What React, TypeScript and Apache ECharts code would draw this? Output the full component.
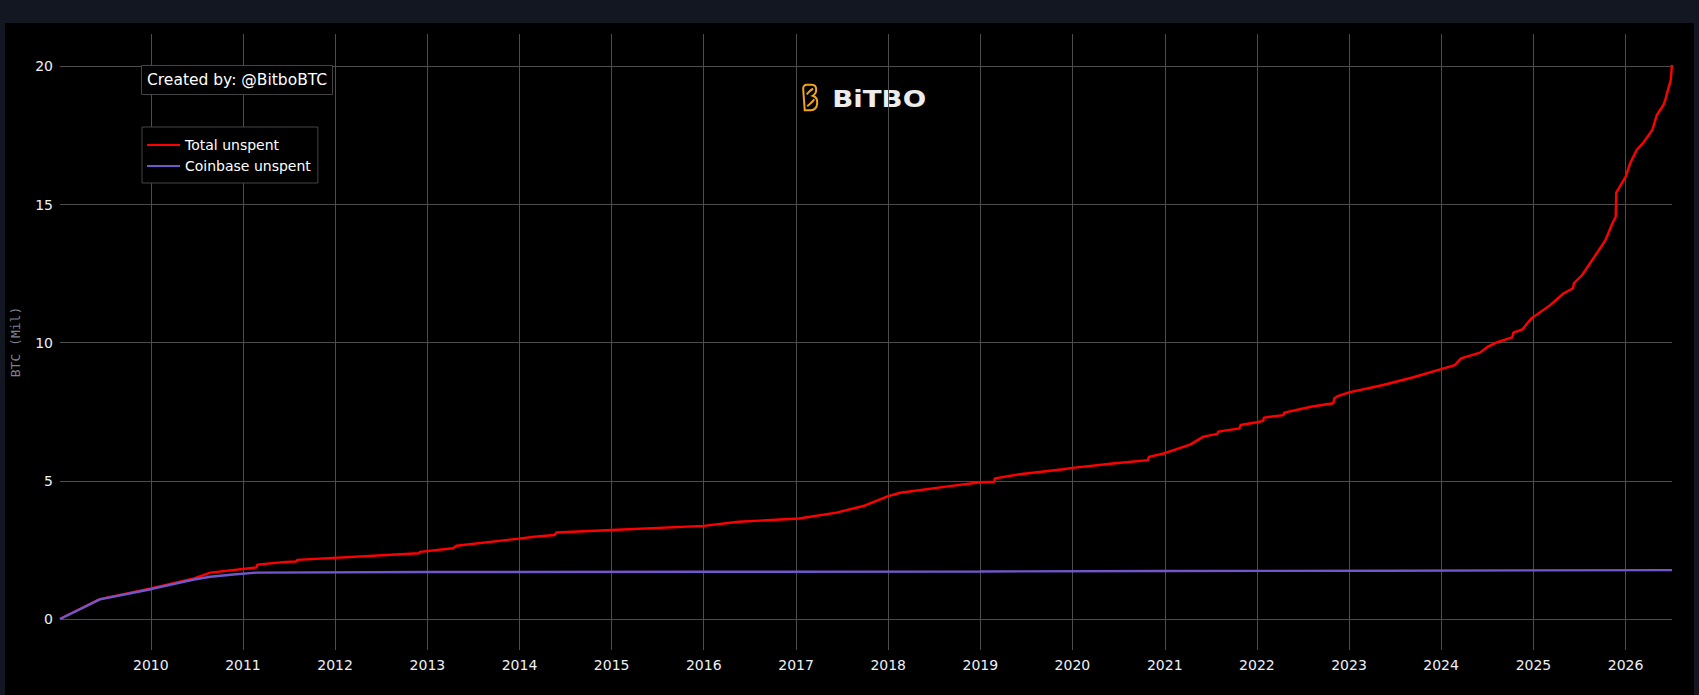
import React, { useEffect, useRef } from 'react';
import * as echarts from 'echarts';

const totalDates = [
  '2009-01-06', '2009-06-13', '2010-01-01', '2010-06-21', '2010-08-25', '2011-02-24', '2011-02-27',
  '2011-06-20', '2011-07-30', '2011-08-04', '2012-11-28', '2012-12-03', '2013-04-12', '2013-04-26',
  '2013-12-28', '2014-02-28', '2014-05-20', '2014-05-26', '2015-01-01', '2016-01-01', '2016-05-18',
  '2017-01-12', '2017-06-10', '2017-09-24', '2018-01-01', '2018-02-17', '2018-09-02', '2019-01-01',
  '2019-02-25', '2019-02-28', '2019-06-06', '2019-11-25', '2020-01-01', '2020-06-09', '2020-10-26',
  '2020-10-30', '2021-01-01', '2021-04-13', '2021-06-03', '2021-07-28', '2021-08-01', '2021-10-24',
  '2021-10-28', '2022-01-01', '2022-01-26', '2022-01-29', '2022-04-16', '2022-04-19', '2022-08-08',
  '2022-10-31', '2022-11-04', '2022-11-18', '2023-01-01', '2023-05-16', '2023-09-13', '2024-01-01',
  '2024-02-24', '2024-03-20', '2024-06-03', '2024-07-05', '2024-08-08', '2024-10-09', '2024-10-13',
  '2024-11-18', '2024-12-24', '2025-03-08', '2025-05-01', '2025-06-07', '2025-06-10', '2025-07-13',
  '2025-10-12', '2025-11-10', '2025-11-23', '2025-11-25', '2026-01-01', '2026-01-19', '2026-02-14',
  '2026-03-15', '2026-04-17', '2026-05-05', '2026-05-31', '2026-06-07', '2026-06-29', '2026-07-04',
];
const totalValues = [
  0, 0.72, 1.11, 1.47, 1.68, 1.87, 1.97,
  2.07, 2.08, 2.14, 2.38, 2.43, 2.56, 2.65,
  2.91, 2.98, 3.04, 3.13, 3.22, 3.37, 3.52,
  3.64, 3.85, 4.09, 4.45, 4.57, 4.81, 4.95,
  4.97, 5.09, 5.24, 5.42, 5.47, 5.63, 5.75,
  5.87, 6.0, 6.32, 6.6, 6.7, 6.78, 6.9,
  7.02, 7.12, 7.17, 7.29, 7.38, 7.47, 7.69,
  7.81, 7.99, 8.07, 8.2, 8.47, 8.75, 9.04,
  9.19, 9.43, 9.64, 9.86, 10.01, 10.19, 10.36,
  10.48, 10.88, 11.36, 11.79, 11.97, 12.15, 12.45,
  13.69, 14.32, 14.56, 15.43, 16.0, 16.49, 16.97,
  17.27, 17.7, 18.24, 18.6, 18.78, 19.5, 20.05,
];

const coinbaseDates = [
  '2009-01-06', '2009-06-13', '2010-01-01', '2010-06-21', '2010-08-25', '2010-11-24', '2011-02-24',
  '2013-01-01', '2016-01-01', '2019-01-01', '2021-01-01', '2023-06-01', '2026-07-04',
];
const coinbaseValues = [0, 0.71, 1.08, 1.43, 1.53, 1.61, 1.68, 1.7, 1.71, 1.72, 1.74, 1.75, 1.77];

const yearTicks = [
  '2010', '2011', '2012', '2013', '2014', '2015', '2016', '2017', '2018',
  '2019', '2020', '2021', '2022', '2023', '2024', '2025', '2026',
];
const yTicks = [0, 5, 10, 15, 20];
const xRange = ['2009-01-06', '2026-07-04'];
const yRange = [-1.12, 21.17];

const ICON_D =
  'M3,27 L1.5,6 Q1.2,1.5 5.5,1.5 L10,1.5 Q14.5,1.5 14.5,6.5 Q14.5,10.5 11,12.5 Q16,14 15.5,20 Q15,26.5 9,27 Z ' +
  'M5,11 Q9,6.5 11.5,5.5 M5.5,23 Q11,18.5 12.5,16';

function parseDay(s: string): number {
  const [y, m, d] = s.split('-').map(Number);
  return Date.UTC(y, (m || 1) - 1, d || 1);
}

const FONT = '"DejaVu Sans", Verdana, sans-serif';

export default function App() {
  const ref = useRef<HTMLDivElement>(null);

  useEffect(() => {
    document.body.style.margin = '0';
    try {
      echarts.graphic.registerShape('bitboIcon', echarts.graphic.extendPath(ICON_D, {}) as any);
    } catch (e) {
      // ignore
    }
    const chart = echarts.init(ref.current!, null, { renderer: 'svg' });
    const yearValues = yearTicks.map((y) => parseDay(y));
    const gridColor = '#4d4d4d';

    chart.setOption({
      animation: false,
      backgroundColor: '#000000',
      title: {
        text: 'Created by: @BitboBTC',
        left: 136,
        top: 42,
        padding: [7, 6],
        borderWidth: 1,
        borderColor: '#444444',
        backgroundColor: '#000000',
        textStyle: { color: '#ffffff', fontSize: 15.5, fontWeight: 'normal', fontFamily: FONT },
      },
      legend: {
        orient: 'vertical',
        left: 137,
        top: 104,
        padding: [11, 7, 10, 5],
        itemGap: 7,
        itemWidth: 33,
        itemHeight: 2,
        itemTextGap: 6,
        icon: 'rect',
        borderColor: '#444444',
        borderWidth: 1,
        backgroundColor: '#000000',
        textStyle: { color: '#ffffff', fontSize: 14, fontFamily: FONT },
        data: ['Total unspent', 'Coinbase unspent'],
      },
      grid: { left: 55, right: 22, top: 11, bottom: 45 },
      xAxis: {
        type: 'value',
        min: parseDay(xRange[0]),
        max: parseDay(xRange[1]),
        axisLine: { show: false },
        axisTick: { show: false, customValues: yearValues },
        axisLabel: {
          customValues: yearValues,
          formatter: (v: number) => String(new Date(v).getUTCFullYear()),
          color: '#eef0f5',
          fontSize: 14,
          fontFamily: FONT,
          margin: 8,
        },
        splitLine: { show: true, lineStyle: { color: gridColor, width: 1 } },
      },
      yAxis: {
        type: 'value',
        min: yRange[0],
        max: yRange[1],
        axisLine: { show: false },
        axisTick: { show: false, customValues: yTicks },
        axisLabel: {
          customValues: yTicks,
          color: '#eef0f5',
          fontSize: 14,
          fontFamily: FONT,
          margin: 7,
        },
        splitLine: { show: true, lineStyle: { color: gridColor, width: 1 } },
      },
      graphic: [
        {
          type: 'text',
          x: 10,
          y: 319,
          rotation: Math.PI / 2,
          style: {
            text: 'BTC (Mil)',
            fill: '#7d8591',
            font: '13px "DejaVu Sans Mono", monospace',
            align: 'center',
            verticalAlign: 'middle',
            textAlign: 'center',
            textVerticalAlign: 'middle',
          },
        },
        {
          type: 'bitboIcon',
          x: 796.7,
          y: 60.3,
          style: { stroke: '#f2a516', fill: 'none', lineWidth: 2 },
        },
        {
          type: 'text',
          x: 874.2,
          y: 75.5,
          scaleX: 1.2,
          style: {
            text: 'BiTBO',
            fill: '#ececec',
            font: 'bold 23px "DejaVu Sans", sans-serif',
            align: 'center',
            verticalAlign: 'middle',
            textAlign: 'center',
            textVerticalAlign: 'middle',
          },
        },
      ],
      series: [
        {
          name: 'Total unspent',
          type: 'line',
          showSymbol: false,
          symbol: 'none',
          color: '#ff0000',
          lineStyle: { color: '#ff0000', width: 2.4 },
          emphasis: { disabled: true },
          data: totalDates.map((d, i) => [parseDay(d), totalValues[i]]),
        },
        {
          name: 'Coinbase unspent',
          type: 'line',
          showSymbol: false,
          symbol: 'none',
          color: '#7356cc',
          lineStyle: { color: '#7356cc', width: 2.4 },
          emphasis: { disabled: true },
          data: coinbaseDates.map((d, i) => [parseDay(d), coinbaseValues[i]]),
        },
      ],
    });

    return () => {
      chart.dispose();
    };
  }, []);

  return (
    <div
      style={{
        position: 'fixed',
        left: 0,
        top: 0,
        width: 1699,
        height: 695,
        background: '#131722',
        overflow: 'hidden',
      }}
    >
      <div
        ref={ref}
        style={{ position: 'absolute', left: 5, top: 23, width: 1689, height: 672 }}
      />
    </div>
  );
}
